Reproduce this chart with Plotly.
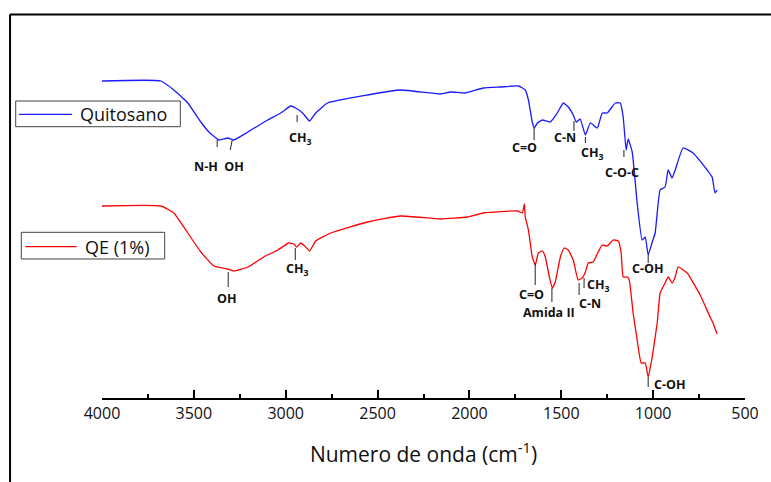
import plotly.graph_objects as go

# ---- data (wavenumber cm^-1, transmittance in arbitrary offset units) ----
quit_wn = [4000, 3679, 3609, 3533, 3462, 3418, 3364, 3315, 3283, 3206, 3098, 3027, 2973, 2946,
           2908, 2870, 2837, 2772, 2554, 2375, 2158, 2103, 2022, 1924, 1831, 1734, 1696, 1679,
           1658, 1647, 1630, 1603, 1560, 1522, 1489, 1462, 1435, 1418, 1397, 1369, 1342, 1304,
           1277, 1250, 1206, 1179, 1163, 1147, 1136, 1114, 1087, 1060, 1043, 1027, 1005, 989,
           962, 935, 918, 897, 880, 837, 783, 706, 679, 663, 652]
quit_t = [317, 317, 308, 295, 276, 266, 258, 260, 258, 266, 278, 285, 292, 290,
          285, 277, 285, 295, 303, 308, 304, 306, 305, 310, 311, 312, 308, 298,
          276, 270, 275, 278, 276, 285, 295, 291, 283, 276, 279, 263, 275, 270,
          285, 285, 295, 295, 281, 248, 259, 246, 195, 158, 161, 143, 156, 165,
          208, 211, 228, 220, 228, 250, 245, 228, 221, 205, 208]

qe_wn = [4000, 3679, 3609, 3533, 3462, 3391, 3315, 3283, 3206, 3120, 3043, 2984, 2956, 2940,
         2918, 2891, 2870, 2837, 2755, 2554, 2375, 2158, 2011, 1924, 1739, 1712, 1701, 1696,
         1679, 1658, 1641, 1625, 1603, 1587, 1565, 1549, 1533, 1505, 1484, 1462, 1435, 1408,
         1386, 1369, 1353, 1326, 1299, 1277, 1250, 1217, 1190, 1174, 1163, 1141, 1130, 1109,
         1087, 1065, 1043, 1027, 1005, 978, 962, 935, 918, 897, 880, 864, 815, 744, 690, 674, 652]
qe_t = [192, 192, 185, 165, 146, 132, 129, 127, 131, 141, 148, 155, 154, 151,
        155, 151, 147, 157, 165, 176, 182, 179, 181, 185, 187, 185, 194, 181,
        168, 141, 133, 145, 147, 141, 121, 110, 116, 141, 150, 148, 138, 118,
        120, 126, 135, 136, 146, 153, 152, 158, 157, 145, 121, 121, 118, 85,
        58, 35, 35, 21, 41, 75, 105, 115, 121, 115, 121, 131, 125, 103, 81, 75, 64]

series_names = ["Quitosano", "QE (1%)"]
series_colors = ["#1a1aff", "#ff0000"]

x_ticks = [4000, 3500, 3000, 2500, 2000, 1500, 1000, 500]

# band labels: (text, label_x, label_y, mark_x0, mark_y0, mark_x1, mark_y1)
quit_bands = [
    ("N-H  OH", 3362, 232, 3373, 258, 3373, 251),
    ("CH<sub>3</sub>", 2921, 260, 2938, 283, 2938, 276),
    ("C=O", 1700, 251, 1648, 270, 1648, 258),
    ("C-N", 1480, 261, 1431, 277, 1431, 267),
    ("CH<sub>3</sub>", 1331, 245, 1369, 261, 1369, 255),
    ("C-O-C", 1167, 226, 1159, 248, 1159, 241),
    ("C-OH", 1028, 130, 1027, 143, 1027, 135),
]
quit_extra_mark = (3291, 258, 3302, 248)
qe_bands = [
    ("OH", 3318, 100, 3313, 126, 3313, 111),
    ("CH<sub>3</sub>", 2937, 129, 2948, 150, 2948, 138),
    ("C=O", 1662, 104, 1642, 135, 1642, 113),
    ("Amida II", 1569, 86, 1551, 110, 1551, 96),
    ("C-N", 1343, 95, 1403, 115, 1403, 103),
    ("CH<sub>3</sub>", 1300, 113, 1376, 120, 1376, 110),
    ("C-OH", 910, 14, 1027, 21, 1027, 11),
]

FONT = "Open Sans"

fig = go.Figure()
for wn, t, nm, col in ((quit_wn, quit_t, series_names[0], series_colors[0]),
                       (qe_wn, qe_t, series_names[1], series_colors[1])):
    fig.add_trace(go.Scatter(x=wn, y=t, mode="lines", name=nm, showlegend=False,
                             line=dict(color=col, width=1.3, shape="spline", smoothing=0.4)))

shapes = []
annotations = []
for bands in (quit_bands, qe_bands):
    for (txt, lx, ly, x0, y0, x1, y1) in bands:
        shapes.append(dict(type="line", xref="x", yref="y", x0=x0, y0=y0, x1=x1, y1=y1,
                           line=dict(color="#222222", width=1)))
        annotations.append(dict(x=lx, y=ly, xref="x", yref="y", text=txt, showarrow=False,
                                font=dict(family=FONT, size=12.5, color="#111111", weight="bold")))
x0, y0, x1, y1 = quit_extra_mark
shapes.append(dict(type="line", xref="x", yref="y", x0=x0, y0=y0, x1=x1, y1=y1,
                   line=dict(color="#222222", width=1)))

# outer frame (top and left edges)
shapes.append(dict(type="line", xref="paper", yref="paper", x0=-0.143, y0=0.999, x1=1.2, y1=0.999,
                   line=dict(color="black", width=2)))
shapes.append(dict(type="line", xref="paper", yref="paper", x0=-0.143, y0=0.999, x1=-0.143, y1=-0.25,
                   line=dict(color="black", width=2)))

# legend boxes (one box per series, as in the original)
legend_boxes = [(-0.1342, 0.7065, 0.1218, 0.7734, -0.1291, -0.0467, 0.7388, -0.0373),
                (-0.1255, 0.3620, 0.0975, 0.4315, -0.1193, -0.0393, 0.3940, -0.0295)]
for i, (bx0, by0, bx1, by1, lx0, lx1, ly, tx) in enumerate(legend_boxes):
    shapes.append(dict(type="rect", xref="paper", yref="paper", x0=bx0, y0=by0, x1=bx1, y1=by1,
                       line=dict(color="#444444", width=1), fillcolor="white", layer="above"))
    shapes.append(dict(type="line", xref="paper", yref="paper", x0=lx0, y0=ly, x1=lx1, y1=ly,
                       line=dict(color=series_colors[i], width=1.3), layer="above"))
    annotations.append(dict(x=tx, y=ly, xref="paper", yref="paper", text=series_names[i],
                            showarrow=False, xanchor="left", yanchor="middle",
                            font=dict(family=FONT, size=18, color="#111111")))

fig.update_layout(
    width=771, height=482,
    margin=dict(l=102, r=26, t=14, b=84),
    paper_bgcolor="white", plot_bgcolor="white",
    font=dict(family=FONT, color="black"),
    shapes=shapes, annotations=annotations,
    showlegend=False,
    xaxis=dict(range=[4000, 500], tickvals=x_ticks, ticktext=[str(v) for v in x_ticks],
               showline=True, linecolor="black", linewidth=2, mirror=False,
               ticks="inside", ticklen=8, tickwidth=2, tickcolor="black",
               minor=dict(ticks="inside", ticklen=4, tickwidth=2, tickcolor="black", dtick=250),
               showgrid=False, zeroline=False,
               tickfont=dict(family=FONT, size=16, color="#111111"),
               title=dict(text="Numero de onda (cm<sup>-1</sup>)", standoff=24,
                          font=dict(family=FONT, size=21, color="#111111"))),
    yaxis=dict(range=[0, 384], visible=False),
)

fig.write_html("out.html")
